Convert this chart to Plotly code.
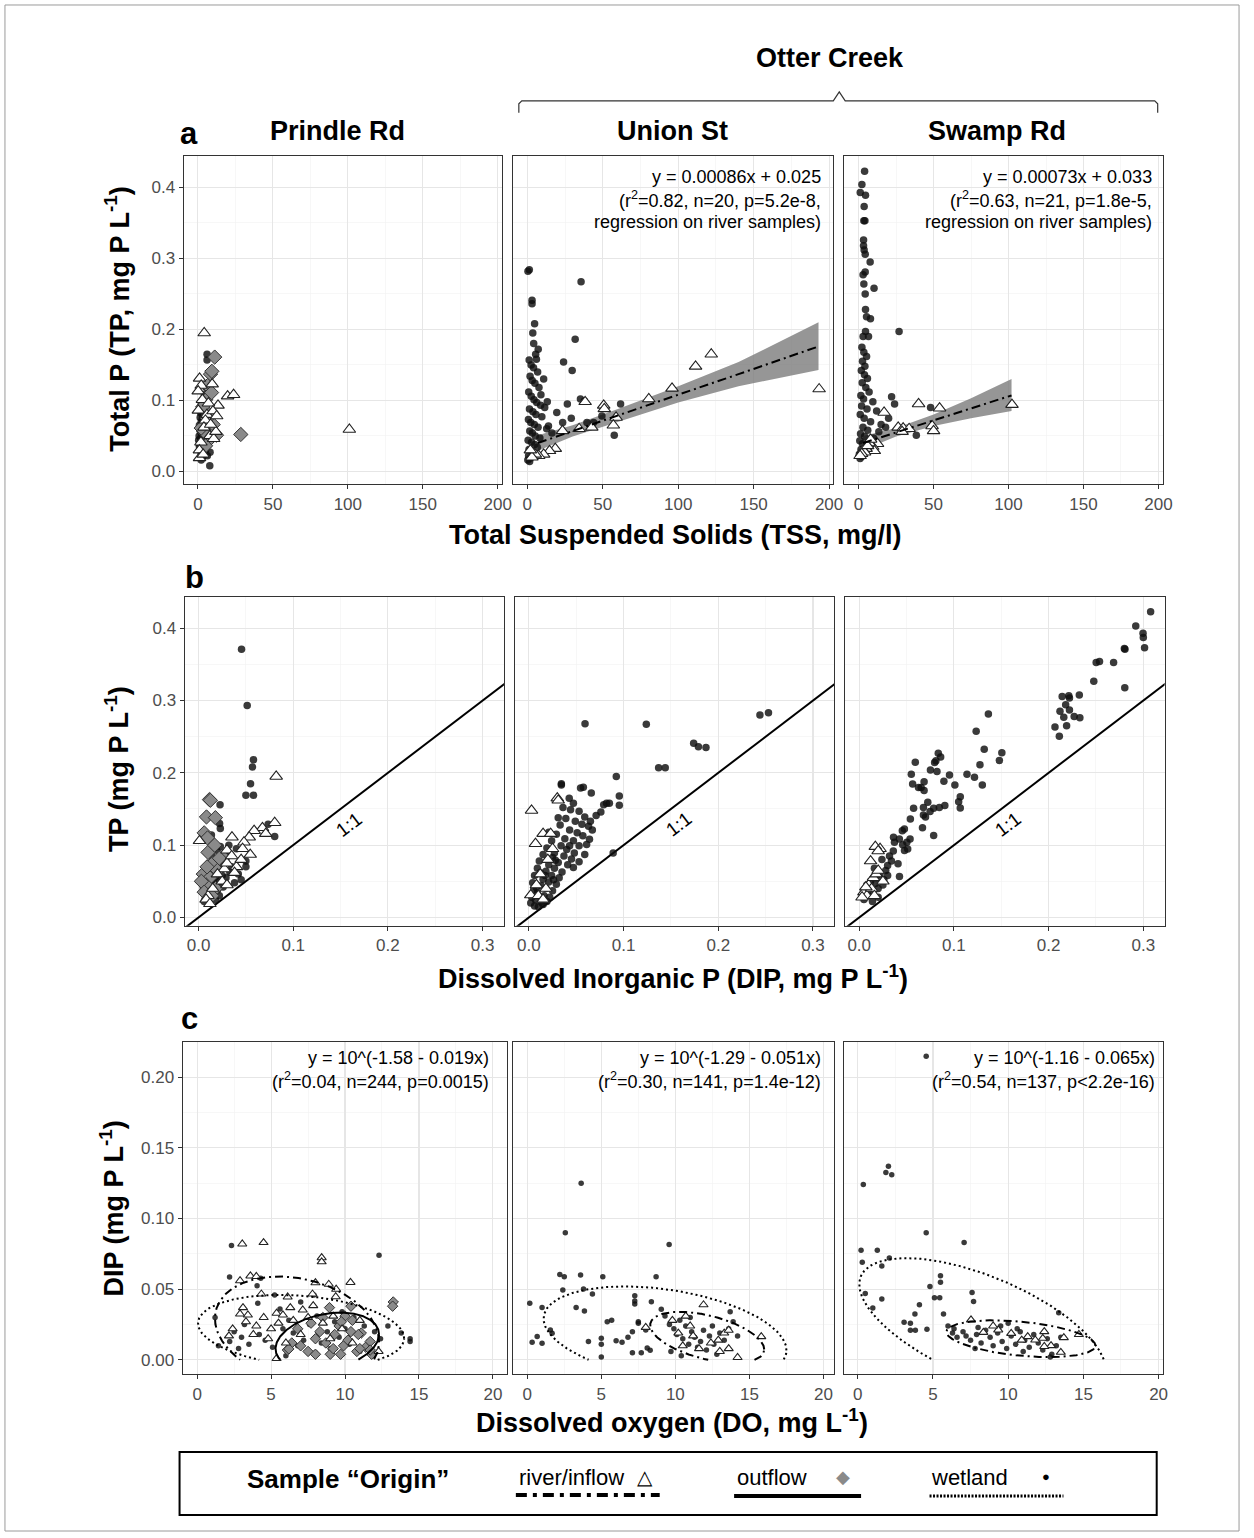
import numpy as np
import plotly.graph_objects as go

W, H = 1254, 1538
FONT = "Liberation Sans, Arial, Helvetica, sans-serif"
NARROW = "Liberation Sans Narrow, Arial Narrow, Liberation Sans, Arial, sans-serif"

# ======================= DATA =======================
SITES = ["Prindle Rd", "Union St", "Swamp Rd"]

# ---- Row a: TSS (mg/l) vs TP (mg P/L) ----
A1_WET = [(6.1,0.165),(6.1,0.157),(7.9,0.008),(1.2,0.030),(2.5,0.034),(3.8,0.040),(5.0,0.046),(0.8,0.050),(2.0,0.055),(3.1,0.060),
          (4.4,0.065),(6.2,0.071),(1.5,0.076),(2.7,0.081),(3.6,0.086),(4.7,0.091),(5.5,0.101),(0.5,0.044),(1.1,0.039),(2.2,0.026),
          (3.3,0.021),(4.1,0.052),(5.3,0.061),(6.4,0.055),(7.2,0.042),(1.0,0.065),(2.3,0.070),(3.0,0.074),(4.2,0.079),(5.1,0.085),
          (2.1,0.094),(3.2,0.099),(4.3,0.108),(0.9,0.036),(1.8,0.047),(2.9,0.051),(5.2,0.031),(6.3,0.022),(8.1,0.027),(2.4,0.062),
          (4.0,0.071),(3.4,0.089),(1.3,0.058),(5.4,0.118),(2.2,0.016),(3.1,0.043),(6.8,0.037),(7.5,0.064),(1.7,0.083),(4.6,0.028)]
A1_RIV = [(4.2,0.195),(1.1,0.131),(2.2,0.121),(0.2,0.113),(9.5,0.123),(19.8,0.106),(23.8,0.108),(13.4,0.093),(0.3,0.086),(101.0,0.059),
          (1.1,0.019),(8.0,0.050),(10.5,0.046),(12.0,0.056),(6.0,0.080),(3.0,0.101),(5.0,0.072),(2.0,0.041),(1.0,0.030),(7.0,0.096),
          (10.0,0.085),(4.0,0.062),(12.5,0.078),(3.5,0.024),(8.5,0.066)]
A1_OUT = [(11.2,0.161),(8.4,0.137),(9.3,0.141),(28.6,0.052),(6.5,0.121),(5.2,0.101),(7.1,0.081),(10.2,0.066),(4.1,0.056),(8.2,0.046),
          (3.2,0.091),(6.3,0.075),(5.1,0.036),(12.4,0.051),(9.1,0.111),(2.2,0.061)]

A2_WET = [(0.4,0.282),(1.3,0.284),(35.6,0.267),(3.1,0.241),(3.1,0.236),(4.8,0.208),(3.6,0.195),(31.7,0.186),(4.2,0.180),(24.0,0.154),
          (29.7,0.142),(61.8,0.095),(57.6,0.051),(35.2,0.102),(37.8,0.099),(29.1,0.075),(23.4,0.069),(39.5,0.069),(43.9,0.069),(49.4,0.078),
          (16.3,0.054),(7.2,0.172),(5.5,0.165),(1.2,0.157),(6.0,0.158),(2.5,0.150),(4.1,0.146),(6.8,0.140),(1.8,0.134),(3.2,0.128),
          (5.0,0.124),(7.7,0.118),(0.9,0.112),(2.6,0.106),(4.4,0.101),(6.2,0.097),(8.8,0.093),(11.5,0.090),(1.4,0.088),(3.7,0.084),
          (5.7,0.080),(9.6,0.077),(0.7,0.073),(2.3,0.069),(4.6,0.066),(7.1,0.062),(12.8,0.060),(1.6,0.057),(3.3,0.054),(5.2,0.050),
          (8.3,0.047),(0.5,0.044),(2.8,0.041),(4.9,0.038),(6.6,0.034),(1.1,0.031),(3.0,0.028),(5.4,0.025),(0.8,0.022),(2.1,0.019),
          (0.3,0.016),(1.5,0.014),(19.5,0.083),(14.0,0.064),(26.5,0.095),(9.0,0.108),(10.8,0.130),(13.2,0.098)]
A2_RIV = [(193.4,0.116),(121.9,0.165),(111.5,0.148),(95.9,0.117),(80.5,0.102),(38.3,0.098),(50.6,0.093),(51.0,0.088),(58.8,0.076),(57.0,0.065),
          (42.7,0.062),(34.3,0.060),(23.3,0.057),(18.5,0.032),(14.7,0.029),(10.8,0.024),(7.5,0.022),(5.3,0.024),(3.0,0.020),(2.0,0.030)]
A2_FIT_X = [7, 30, 60, 100, 140, 193]
A2_FIT_Y = [0.040, 0.057, 0.079, 0.108, 0.137, 0.176]
A2_FIT_LO = [0.029, 0.049, 0.070, 0.097, 0.120, 0.143]
A2_FIT_HI = [0.051, 0.065, 0.088, 0.120, 0.154, 0.210]

A3_WET = [(4.0,0.423),(2.2,0.404),(1.1,0.393),(4.6,0.389),(3.7,0.373),(3.5,0.353),(4.2,0.353),(3.3,0.326),(3.3,0.318),(3.7,0.312),
          (4.4,0.306),(7.7,0.295),(4.4,0.281),(3.0,0.277),(3.5,0.264),(10.3,0.258),(4.4,0.250),(4.6,0.228),(5.3,0.218),(7.9,0.215),
          (27.0,0.197),(4.6,0.197),(3.0,0.190),(6.6,0.190),(2.2,0.175),(3.5,0.168),(5.3,0.162),(2.6,0.155),(4.2,0.148),(1.8,0.142),
          (3.9,0.136),(5.9,0.131),(2.4,0.125),(4.8,0.118),(7.0,0.112),(1.5,0.107),(3.3,0.102),(9.5,0.098),(22.0,0.105),(24.0,0.095),
          (48.0,0.090),(38.5,0.051),(2.0,0.092),(5.6,0.088),(12.0,0.085),(1.1,0.080),(3.7,0.075),(8.0,0.070),(15.0,0.066),(2.9,0.062),
          (6.1,0.058),(18.0,0.062),(1.3,0.053),(4.0,0.049),(10.0,0.047),(0.8,0.043),(2.6,0.039),(5.8,0.035),(1.6,0.031),(3.4,0.027),
          (0.5,0.024),(2.1,0.021),(1.0,0.018),(20.0,0.075),(13.5,0.056)]
A3_RIV = [(102.3,0.094),(54.0,0.089),(40.0,0.095),(17.0,0.083),(26.4,0.062),(29.7,0.061),(33.7,0.060),(49.0,0.064),(50.0,0.057),(29.0,0.056),
          (12.6,0.039),(9.4,0.035),(10.5,0.029),(5.0,0.032),(3.0,0.030),(4.0,0.027),(7.0,0.040),(2.0,0.025),(1.0,0.022),(6.0,0.036),(8.0,0.045)]
A3_FIT_X = [3, 25, 50, 75, 102]
A3_FIT_Y = [0.040, 0.055, 0.072, 0.089, 0.107]
A3_FIT_LO = [0.030, 0.049, 0.064, 0.075, 0.085]
A3_FIT_HI = [0.050, 0.061, 0.080, 0.103, 0.130]

A_STATS = [None,
           ["y = 0.00086x + 0.025", "(r<sup>2</sup>=0.82, n=20, p=5.2e-8,", "regression on river samples)"],
           ["y = 0.00073x + 0.033", "(r<sup>2</sup>=0.63, n=21, p=1.8e-5,", "regression on river samples)"]]

# ---- Row b: DIP vs TP ----
B1_WET = [(0.0454,0.371),(0.0514,0.293),(0.058,0.218),(0.057,0.208),(0.0549,0.185),(0.050,0.169),(0.058,0.169),(0.0227,0.156),
          (0.0735,0.129),(0.0804,0.112),(0.0136,0.114),(0.0222,0.130),(0.023,0.123),(0.050,0.078),(0.050,0.070),
          (0.010,0.045),(0.012,0.052),(0.015,0.048),(0.018,0.056),(0.020,0.060),(0.014,0.062),(0.016,0.040),(0.011,0.036),
          (0.019,0.044),(0.022,0.050),(0.025,0.058),(0.013,0.068),(0.017,0.072),(0.021,0.066),(0.024,0.075),(0.027,0.080),
          (0.030,0.084),(0.008,0.030),(0.012,0.028),(0.016,0.033),(0.020,0.038),(0.026,0.042),(0.029,0.055),(0.033,0.063),
          (0.035,0.070),(0.038,0.048),(0.005,0.041),(0.007,0.055),(0.009,0.063),(0.011,0.075),(0.014,0.085),(0.019,0.093),
          (0.023,0.098),(0.028,0.090),(0.032,0.100),(0.040,0.095),(0.042,0.060),(0.045,0.052),(0.018,0.024),(0.022,0.030),
          (0.006,0.022),(0.009,0.050),(0.015,0.055),(0.017,0.047),(0.013,0.043)]
B1_RIV = [(0.082,0.195),(0.0804,0.131),(0.0675,0.124),(0.071,0.116),(0.0587,0.120),(0.0535,0.111),(0.048,0.104),(0.0546,0.087),
          (0.0465,0.095),(0.0353,0.111),(0.030,0.093),(0.001,0.106),(0.0273,0.067),(0.020,0.060),(0.030,0.075),(0.025,0.050),
          (0.010,0.030),(0.035,0.085),(0.040,0.070),(0.015,0.040),(0.045,0.080),(0.030,0.045),(0.008,0.025),(0.038,0.062),(0.012,0.019)]
B1_OUT = [(0.0115,0.163),(0.0125,0.162),(0.0084,0.139),(0.0178,0.138),(0.006,0.117),(0.0095,0.110),(0.010,0.090),(0.015,0.075),
          (0.005,0.060),(0.012,0.055),(0.020,0.065),(0.008,0.045),(0.018,0.040),(0.003,0.050),(0.025,0.085),(0.006,0.035),
          (0.014,0.030),(0.009,0.070),(0.017,0.100),(0.022,0.082)]

B2_WET = [(0.0593,0.268),(0.124,0.267),(0.244,0.280),(0.253,0.283),(0.174,0.241),(0.179,0.236),(0.187,0.235),(0.137,0.207),
          (0.144,0.207),(0.0923,0.195),(0.0343,0.185),(0.0343,0.183),(0.0546,0.179),(0.0575,0.180),(0.0659,0.172),(0.0955,0.168),
          (0.0955,0.155),(0.085,0.158),(0.082,0.158),(0.079,0.156),(0.0426,0.165),(0.089,0.089),
          (0.036,0.152),(0.044,0.149),(0.053,0.147),(0.059,0.139),(0.071,0.141),(0.076,0.146),(0.039,0.137),(0.049,0.133),
          (0.056,0.129),(0.063,0.126),(0.067,0.121),(0.033,0.128),(0.043,0.121),(0.051,0.117),(0.057,0.113),(0.029,0.115),
          (0.038,0.109),(0.047,0.106),(0.053,0.099),(0.061,0.101),(0.024,0.106),(0.034,0.099),(0.040,0.094),(0.048,0.089),
          (0.059,0.087),(0.019,0.096),(0.027,0.089),(0.037,0.085),(0.045,0.081),(0.053,0.077),(0.015,0.087),(0.025,0.083),
          (0.031,0.076),(0.041,0.073),(0.047,0.069),(0.011,0.078),(0.021,0.073),(0.027,0.068),(0.035,0.063),(0.009,0.068),
          (0.018,0.064),(0.024,0.058),(0.032,0.055),(0.006,0.058),(0.015,0.053),(0.021,0.049),(0.029,0.046),(0.004,0.048),
          (0.013,0.044),(0.018,0.040),(0.025,0.037),(0.005,0.038),(0.009,0.034),(0.016,0.030),(0.022,0.028),(0.003,0.028),
          (0.007,0.024),(0.013,0.021),(0.019,0.022),(0.002,0.020),(0.006,0.016),(0.010,0.015),(0.015,0.018),(0.064,0.108),
          (0.065,0.133),(0.047,0.158),(0.031,0.138),(0.021,0.118),(0.012,0.062),(0.026,0.052),(0.008,0.041),(0.017,0.058),
          (0.028,0.079),(0.043,0.099)]
B2_RIV = [(0.0028,0.148),(0.030,0.165),(0.031,0.162),(0.015,0.116),(0.023,0.116),(0.007,0.102),(0.002,0.031),(0.010,0.030),
          (0.015,0.025),(0.020,0.080),(0.012,0.060),(0.025,0.095),(0.008,0.045),(0.018,0.040)]

B3_WET = [(0.3077,0.4227),(0.292,0.403),(0.2997,0.393),(0.300,0.387),(0.3013,0.373),(0.280,0.372),(0.2806,0.371),(0.2686,0.3527),
          (0.2502,0.3527),(0.2537,0.354),(0.2477,0.3265),(0.2804,0.3177),(0.2143,0.3057),(0.2213,0.3066),(0.222,0.3034),(0.2324,0.3075),
          (0.218,0.294),(0.222,0.287),(0.212,0.285),(0.216,0.277),(0.227,0.278),(0.233,0.276),(0.2067,0.2634),(0.2113,0.2505),
          (0.219,0.265),(0.1364,0.2813),(0.1235,0.2575),(0.132,0.2327),(0.1275,0.211),(0.130,0.1833),(0.1217,0.194),(0.1506,0.2277),
          (0.148,0.2171),(0.1138,0.198),(0.0953,0.197),(0.0894,0.1884),(0.101,0.1833),(0.1067,0.167),(0.105,0.160),(0.1067,0.1515),
          (0.0592,0.2146),(0.0550,0.198),(0.0564,0.1847),(0.0626,0.1796),(0.0685,0.1754),(0.0654,0.1796),(0.0685,0.1878),
          (0.0835,0.227),(0.086,0.222),(0.081,0.2166),(0.0796,0.2143),(0.0752,0.204),(0.0821,0.2018),
          (0.0574,0.151),(0.0678,0.152),(0.0724,0.1594),(0.0748,0.1464),(0.0786,0.151),(0.0846,0.152),(0.0904,0.1547),
          (0.0678,0.1418),(0.070,0.139),(0.0668,0.1239),(0.0786,0.1133),(0.054,0.1363),(0.0477,0.1225),(0.0455,0.120),
          (0.0362,0.111),(0.0372,0.104),(0.0424,0.1085),(0.0459,0.1004),(0.0503,0.104),(0.0537,0.1085),(0.0478,0.0925),
          (0.0512,0.0947),(0.041,0.0742),(0.0425,0.0567),
          (0.005,0.025),(0.010,0.030),(0.015,0.035),(0.020,0.040),(0.025,0.045),(0.012,0.050),(0.018,0.055),(0.022,0.060),
          (0.028,0.065),(0.030,0.072),(0.016,0.068),(0.008,0.045),(0.024,0.080),(0.032,0.085),(0.034,0.078),(0.026,0.052),
          (0.020,0.028),(0.014,0.022),(0.006,0.032),(0.036,0.092),(0.030,0.058),(0.011,0.040),(0.017,0.047)]
B3_RIV = [(0.005,0.035),(0.010,0.045),(0.015,0.055),(0.018,0.060),(0.020,0.065),(0.022,0.095),(0.017,0.098),(0.020,0.092),
          (0.012,0.078),(0.008,0.030),(0.003,0.028),(0.025,0.050),(0.013,0.040),(0.007,0.042),(0.016,0.030)]

# ---- Row c: DO (mg/L) vs DIP (mg P/L) ----
C1_WET = [(2.32,0.081),(12.3,0.074),(2.19,0.0586),(4.3,0.0577),(4.05,0.0525),(5.24,0.0459),(4.1,0.040),(1.21,0.030),(1.44,0.010),
          (14.4,0.015),(14.4,0.013),(13.8,0.019),(12.9,0.024),(2.5,0.020),(3.0,0.016),(3.5,0.011),(2.8,0.008),(4.2,0.018),(4.6,0.014),
          (5.1,0.009),(5.8,0.022),(6.2,0.028),(6.5,0.019),(7.0,0.041),(7.2,0.014),(7.6,0.025),(8.1,0.031),(8.4,0.012),(8.8,0.020),
          (9.0,0.008),(9.3,0.027),(9.6,0.016),(10.0,0.022),(10.3,0.011),(10.6,0.030),(10.9,0.018),(11.3,0.024),(11.6,0.013),
          (12.0,0.020),(12.4,0.015),(11.0,0.006),(8.0,0.005),(6.8,0.010),(3.2,0.025),(2.2,0.013),(9.8,0.034),(7.9,0.046),(5.6,0.036),(6.0,0.003)]
C1_RIV = [(3.05,0.082),(4.49,0.083),(8.42,0.0723),(8.42,0.0694),(10.37,0.0548),(2.9,0.056),(3.6,0.0594),(4.0,0.059),(8.0,0.0546),
          (8.9,0.0535),(9.4,0.050),(4.34,0.0466),(6.12,0.0445),(7.8,0.0466),(9.37,0.0447),(3.1,0.037),(3.43,0.0318),(3.3,0.027),
          (2.9,0.0325),(5.37,0.033),(5.8,0.0318),(7.14,0.0353),(7.85,0.0384),(2.15,0.017),(5.37,0.001),(12.27,0.006),(4.5,0.030),
          (5.0,0.022),(6.5,0.028),(7.0,0.018),(8.5,0.026),(9.0,0.015),(9.8,0.022),(10.5,0.012),(11.0,0.028),(4.0,0.024),(3.8,0.018),
          (6.0,0.012),(2.4,0.022),(5.5,0.026),(7.5,0.030),(9.2,0.031),(4.8,0.015),(6.3,0.037)]
C1_OUT = [(13.26,0.041),(13.22,0.038),(7.0,0.010),(7.5,0.006),(8.0,0.015),(8.3,0.020),(8.7,0.012),(9.0,0.004),(9.3,0.018),
          (9.6,0.024),(9.9,0.010),(10.2,0.014),(10.5,0.028),(10.8,0.006),(11.1,0.019),(11.4,0.009),(11.7,0.013),(6.4,0.012),
          (6.8,0.022),(7.7,0.026),(8.5,0.030),(10.0,0.031),(10.4,0.020),(9.2,0.008),(11.8,0.004),(6.1,0.007),(6.2,0.0078),
          (8.0,0.004),(9.7,0.004),(10.9,0.018),(11.7,0.007),(11.0,0.008),(10.4,0.038),(8.95,0.037),(9.75,0.027)]

C2_WET = [(3.64,0.125),(2.57,0.090),(9.58,0.0816),(2.2,0.0605),(2.5,0.0588),(3.6,0.0600),(5.1,0.0588),(8.7,0.0588),(2.4,0.0494),
          (3.8,0.0501),(4.4,0.0466),(0.17,0.040),(1.0,0.037),(7.26,0.0454),(7.26,0.0416),(7.26,0.0395),(8.38,0.0412),(3.3,0.037),
          (3.86,0.0346),(9.05,0.0358),(5.4,0.027),(5.7,0.028),(7.5,0.027),(7.5,0.026),(8.0,0.0212),(1.56,0.0212),(1.0,0.0118),
          (0.67,0.0165),(0.33,0.0125),(1.68,0.0188),(4.13,0.013),(5.0,0.0153),(5.0,0.011),(6.0,0.0135),(6.4,0.0125),(6.8,0.016),
          (7.1,0.020),(7.1,0.005),(7.7,0.005),(8.1,0.0085),(8.3,0.0068),(5.0,0.002),
          (9.6,0.025),(9.9,0.022),(10.1,0.018),(10.3,0.028),(10.5,0.015),(10.7,0.024),(10.9,0.011),(11.1,0.020),(11.3,0.016),
          (11.5,0.009),(11.7,0.013),(11.9,0.021),(12.1,0.007),(12.3,0.017),(12.6,0.011),(12.8,0.004),(13.0,0.019),(13.3,0.014),
          (13.6,0.022),(13.9,0.027),(14.2,0.017),(9.7,0.006),(10.4,0.003),(12.5,0.024),(11.0,0.030),(13.7,0.034),(9.3,0.031)]
C2_RIV = [(11.9,0.039),(15.8,0.0165),(14.2,0.0017),(9.8,0.028),(10.7,0.031),(11.0,0.024),(10.2,0.019),(11.2,0.017),(10.5,0.010),
          (11.6,0.008),(12.4,0.012),(12.9,0.014),(13.3,0.019),(13.6,0.021),(13.0,0.006),(13.6,0.008),(8.0,0.023)]

C3_WET = [(4.55,0.2148),(2.04,0.1369),(1.87,0.1325),(2.26,0.131),(0.37,0.124),(4.55,0.090),(7.07,0.083),(0.22,0.0776),(1.3,0.0776),
          (2.1,0.072),(0.3,0.069),(1.6,0.0665),(5.5,0.0596),(5.5,0.055),(4.8,0.052),(0.5,0.047),(7.6,0.0476),(7.7,0.0413),(5.1,0.044),
          (5.45,0.044),(1.6,0.043),(4.1,0.039),(1.0,0.0367),(5.7,0.0325),(3.8,0.0325),(13.36,0.0334),(3.08,0.0266),(3.5,0.0259),
          (3.5,0.021),(3.83,0.021),(4.6,0.0217),
          (6.0,0.024),(6.3,0.019),(6.6,0.016),(7.0,0.020),(7.2,0.017),(7.5,0.014),(7.9,0.018),(8.2,0.012),(8.5,0.021),(8.8,0.016),
          (9.0,0.010),(9.3,0.019),(9.6,0.013),(9.9,0.008),(10.2,0.017),(10.5,0.011),(10.8,0.020),(11.1,0.014),(11.4,0.009),
          (11.7,0.018),(12.0,0.012),(12.3,0.007),(12.6,0.015),(12.9,0.004),(13.2,0.010),(8.0,0.023),(9.5,0.024),(10.0,0.026),
          (11.0,0.006),(12.8,0.002),(7.8,0.008),(6.4,0.022),(13.5,0.016),(10.6,0.022)]
C3_RIV = [(7.53,0.0283),(9.34,0.0212),(8.35,0.0195),(10.2,0.0188),(11.3,0.0165),(11.8,0.0141),(12.4,0.020),(12.3,0.0153),
          (12.85,0.0101),(13.5,0.0054),(13.7,0.0158),(14.7,0.018),(12.4,0.0095),(9.0,0.024),(10.9,0.014)]

C_STATS = [["y = 10^(-1.58 - 0.019x)", "(r<sup>2</sup>=0.04, n=244, p=0.0015)"],
           ["y = 10^(-1.29 - 0.051x)", "(r<sup>2</sup>=0.30, n=141, p=1.4e-12)"],
           ["y = 10^(-1.16 - 0.065x)", "(r<sup>2</sup>=0.54, n=137, p<2.2e-16)"]]

# 95% data ellipses per origin: (centre x, centre y, half-width x, half-height y, correlation)
C1_ELL_WET = (7.03, 0.0206, 6.97, 0.0254, -0.21)
C1_ELL_RIV = (6.75, 0.0210, 5.55, 0.0380, -0.22)
C1_ELL_OUT = (8.80, 0.0130, 3.50, 0.0205, 0.25)
C2_ELL_WET = (9.30, 0.0180, 8.20, 0.0340, -0.33)
C2_ELL_RIV = (12.15, 0.0160, 3.85, 0.0180, -0.48)
C3_ELL_WET = (8.30, 0.0230, 8.20, 0.0490, -0.62)
C3_ELL_RIV = (10.85, 0.0150, 4.95, 0.0130, -0.37)

# ======================= LAYOUT GEOMETRY (pixels) =======================
ROWS = [
    dict(ybox=(156, 485), xboxes=[(185, 506), (517, 840), (851, 1172)],
         xr=[[-9.6, 202.8]] * 3, yr=[-0.0183, 0.4446],
         xt=[0, 50, 100, 150, 200], xtt=["0", "50", "100", "150", "200"], xminor=25,
         yt=[0, 0.1, 0.2, 0.3, 0.4], ytt=["0.0", "0.1", "0.2", "0.3", "0.4"], yminor=0.05),
    dict(ybox=(598, 927), xboxes=[(186, 508), (519, 841), (852, 1174)],
         xr=[[-0.0148, 0.3225]] * 3, yr=[-0.0115, 0.4428],
         xt=[0, 0.1, 0.2, 0.3], xtt=["0.0", "0.1", "0.2", "0.3"], xminor=0.05,
         yt=[0, 0.1, 0.2, 0.3, 0.4], ytt=["0.0", "0.1", "0.2", "0.3", "0.4"], yminor=0.05),
    dict(ybox=(1043, 1376), xboxes=[(184, 511), (517, 841), (851, 1172)],
         xr=[[-0.99, 20.95], [-0.97, 20.73], [-0.9, 20.27]], yr=[-0.0101, 0.2251],
         xt=[0, 5, 10, 15, 20], xtt=["0", "5", "10", "15", "20"], xminor=2.5,
         yt=[0, 0.05, 0.10, 0.15, 0.20], ytt=["0.00", "0.05", "0.10", "0.15", "0.20"], yminor=0.025),
]

def fx(p):
    return p / W

def fy(p):
    return 1 - p / H

fig = go.Figure()
layout = dict(width=W, height=H, autosize=False, margin=dict(l=0, r=0, t=0, b=0, pad=0),
              paper_bgcolor="white", plot_bgcolor="white", showlegend=False,
              font=dict(family=FONT, color="black"))

GRID = "#e6e6e6"
MINOR = "#f2f2f2"
BORDER = "#333333"
TICKC = "#4d4d4d"

for r, row in enumerate(ROWS):
    for c in range(3):
        k = r * 3 + c + 1
        xk = "xaxis" if k == 1 else f"xaxis{k}"
        yk = "yaxis" if k == 1 else f"yaxis{k}"
        x0, x1 = row["xboxes"][c]
        y0, y1 = row["ybox"]
        layout[xk] = dict(domain=[fx(x0), fx(x1)], range=row["xr"][c], anchor=f"y{k}" if k > 1 else "y",
                          tickmode="array", tickvals=row["xt"], ticktext=row["xtt"],
                          showgrid=True, gridcolor=GRID, gridwidth=1.1, zeroline=False,
                          showline=True, mirror=True, linecolor=BORDER, linewidth=1,
                          ticks="outside", ticklen=4, tickcolor=BORDER, tickwidth=1,
                          tickfont=dict(size=17, color=TICKC, family=FONT),
                          minor=dict(dtick=row["xminor"] * 2, tick0=row["xminor"], showgrid=True,
                                     gridcolor=MINOR, gridwidth=0.6, ticks=""))
        layout[yk] = dict(domain=[fy(y1), fy(y0)], range=row["yr"], anchor=f"x{k}" if k > 1 else "x",
                          tickmode="array", tickvals=row["yt"], ticktext=row["ytt"],
                          showticklabels=(c == 0),
                          showgrid=True, gridcolor=GRID, gridwidth=1.1, zeroline=False,
                          showline=True, mirror=True, linecolor=BORDER, linewidth=1,
                          ticks="outside" if c == 0 else "", ticklen=4, tickcolor=BORDER, tickwidth=1,
                          tickfont=dict(size=17, color=TICKC, family=FONT),
                          minor=dict(dtick=row["yminor"] * 2, tick0=row["yminor"], showgrid=True,
                                     gridcolor=MINOR, gridwidth=0.6, ticks=""))

def axref(k):
    return ("x" if k == 1 else f"x{k}"), ("y" if k == 1 else f"y{k}")

def pts(k, data, kind, small=False):
    xa, ya = axref(k)
    xs = [p[0] for p in data]
    ys = [p[1] for p in data]
    if kind == "wet":
        m = dict(symbol="circle", size=5.5 if small else 7.5, color="rgba(15,15,15,0.82)", line=dict(width=0))
    elif kind == "riv":
        m = dict(symbol="triangle-up", size=8 if small else 11, color="white", line=dict(width=1.1, color="#222222"))
    else:
        m = dict(symbol="diamond", size=8 if small else 11, color="#8a8a8a", line=dict(width=1, color="#333333"))
    fig.add_trace(go.Scatter(x=xs, y=ys, mode="markers", marker=m, xaxis=xa, yaxis=ya,
                             hoverinfo="skip", cliponaxis=True))

def fit(k, X, Y, LO, HI):
    xa, ya = axref(k)
    fig.add_trace(go.Scatter(x=list(X) + list(X)[::-1], y=list(HI) + list(LO)[::-1], fill="toself",
                             fillcolor="rgba(120,120,120,0.78)", line=dict(width=0), mode="lines",
                             xaxis=xa, yaxis=ya, hoverinfo="skip"))

def fitline(k, X, Y):
    xa, ya = axref(k)
    fig.add_trace(go.Scatter(x=X, y=Y, mode="lines", line=dict(color="black", width=2, dash="9px,4px,2px,4px"),
                             xaxis=xa, yaxis=ya, hoverinfo="skip"))

def ellipse(k, par, dash, width=2):
    cx, cy, hx, hy, rho = par
    t = np.linspace(0, 2 * np.pi, 361)
    xs = cx + hx * np.cos(t)
    ys = cy + hy * (rho * np.cos(t) + np.sqrt(1 - rho ** 2) * np.sin(t))
    ys = np.where(ys < 0, np.nan, ys)
    xa, ya = axref(k)
    fig.add_trace(go.Scatter(x=xs, y=ys, mode="lines", line=dict(color="black", width=width, dash=dash),
                             connectgaps=False, xaxis=xa, yaxis=ya, hoverinfo="skip"))

# ---- row a ----
pts(1, A1_WET, "wet"); pts(1, A1_OUT, "out"); pts(1, A1_RIV, "riv")
fit(2, A2_FIT_X, A2_FIT_Y, A2_FIT_LO, A2_FIT_HI)
pts(2, A2_WET, "wet"); pts(2, A2_RIV, "riv")
fitline(2, A2_FIT_X, A2_FIT_Y)
fit(3, A3_FIT_X, A3_FIT_Y, A3_FIT_LO, A3_FIT_HI)
pts(3, A3_WET, "wet"); pts(3, A3_RIV, "riv")
fitline(3, A3_FIT_X, A3_FIT_Y)

# ---- row b ----
for k in (4, 5, 6):
    xa, ya = axref(k)
    lim = ROWS[1]["xr"][0]
    fig.add_trace(go.Scatter(x=[lim[0] - 0.05, lim[1] + 0.05], y=[lim[0] - 0.05, lim[1] + 0.05], mode="lines",
                             line=dict(color="black", width=2), xaxis=xa, yaxis=ya, hoverinfo="skip"))
pts(4, B1_WET, "wet"); pts(4, B1_OUT, "out"); pts(4, B1_RIV, "riv")
pts(5, B2_WET, "wet"); pts(5, B2_RIV, "riv")
pts(6, B3_WET, "wet"); pts(6, B3_RIV, "riv")

# ---- row c ----
pts(7, C1_WET, "wet", True); pts(7, C1_OUT, "out", True); pts(7, C1_RIV, "riv", True)
pts(8, C2_WET, "wet", True); pts(8, C2_RIV, "riv", True)
pts(9, C3_WET, "wet", True); pts(9, C3_RIV, "riv", True)
DOT = "2px,3px"
DASHDOT = "8px,4px,2px,4px"
ellipse(7, C1_ELL_WET, DOT); ellipse(7, C1_ELL_RIV, DASHDOT); ellipse(7, C1_ELL_OUT, "solid")
ellipse(8, C2_ELL_WET, DOT); ellipse(8, C2_ELL_RIV, DASHDOT)
ellipse(9, C3_ELL_WET, DOT); ellipse(9, C3_ELL_RIV, DASHDOT)

# ======================= TEXT =======================
ann = []

def text(xp, yp, s, size, bold=False, anchor="center", angle=0, color="black", family=FONT):
    ann.append(dict(x=fx(xp), y=fy(yp), xref="paper", yref="paper", text=f"<b>{s}</b>" if bold else s,
                    showarrow=False, xanchor=anchor, yanchor="middle", textangle=angle,
                    font=dict(size=size, color=color, family=family)))

text(837, 58, "Otter Creek", 27, True)
for c, (cxp, name) in enumerate(zip([340, 678, 1005], SITES)):
    text(cxp, 131, name, 27, True)
text(191, 134, "a", 31, True)
text(196, 578, "b", 31, True)
text(191, 1020, "c", 31, True)

text(681, 536, "Total Suspended Solids (TSS, mg/l)", 27, True)
text(678, 978, "Dissolved Inorganic P (DIP, mg P L<sup>-1</sup>)", 27, True)
text(677, 1423, "Dissolved oxygen (DO, mg L<sup>-1</sup>)", 27, True)
text(118, 320, "Total P (TP, mg P L<sup>-1</sup>)", 27, True, angle=-90)
text(118, 770, "TP (mg P L<sup>-1</sup>)", 27, True, angle=-90)
text(113, 1210, "DIP (mg P L<sup>-1</sup>)", 27, True, angle=-90)

for c, right in ((1, 830), (2, 1163)):
    for i, line in enumerate(A_STATS[c]):
        text(right, 177 + i * 22.5, line, 18, anchor="right")
for c, right in enumerate((495, 830, 1166)):
    for i, line in enumerate(C_STATS[c]):
        text(right, 1059 + i * 23, line, 18, anchor="right")

for xp in (352, 684, 1016):
    text(xp, 826, "1:1", 19, angle=-37)

# legend texts
text(351, 1481, "Sample “Origin”", 26, True)
text(576, 1479, "river/inflow", 22, family=NARROW)
text(650, 1479, "△", 20)
text(778, 1479, "outflow", 22, family=NARROW)
text(850, 1479, "◆", 18, color="#8a8a8a")
text(977, 1479, "wetland", 22, family=NARROW)
text(1054, 1478, "●", 13)

layout["annotations"] = ann

# ======================= SHAPES =======================
shapes = []

def line(x0, y0, x1, y1, width=1, color="black", dash="solid"):
    shapes.append(dict(type="line", xref="paper", yref="paper", x0=fx(x0), y0=fy(y0), x1=fx(x1), y1=fy(y1),
                       line=dict(color=color, width=width, dash=dash)))

# brace over Otter Creek
bp = [(523, 113), (523, 104), (526, 101), (840, 101), (846, 92), (852, 101), (1164, 101), (1167, 104), (1167, 113)]
path = "M " + " L ".join(f"{fx(x):.5f},{fy(y):.5f}" for x, y in bp)
shapes.append(dict(type="path", xref="paper", yref="paper", path=path, line=dict(color="#333333", width=1.2)))

# legend box
shapes.append(dict(type="rect", xref="paper", yref="paper", x0=fx(181), y0=fy(1517), x1=fx(1166), y1=fy(1454),
                   line=dict(color="black", width=2), fillcolor="rgba(0,0,0,0)"))
line(520, 1497, 665, 1497, width=4, dash="11px,6px,4px,6px")
line(740, 1498, 868, 1498, width=4)
line(937, 1498, 1072, 1498, width=3, dash="2px,1.5px")

# outer frame
shapes.append(dict(type="rect", xref="paper", yref="paper", x0=fx(5), y0=fy(1533), x1=fx(1249), y1=fy(5),
                   line=dict(color="#9a9a9a", width=1), fillcolor="rgba(0,0,0,0)"))

layout["shapes"] = shapes
fig.update_layout(**layout)
fig.write_html("out.html", config={"displayModeBar": False, "responsive": False, "staticPlot": True},
               default_width=f"{W}px", default_height=f"{H}px",
               post_script="document.documentElement.style.overflow='hidden';document.body.style.margin='0px';"
                           "document.body.style.overflow='hidden';")
